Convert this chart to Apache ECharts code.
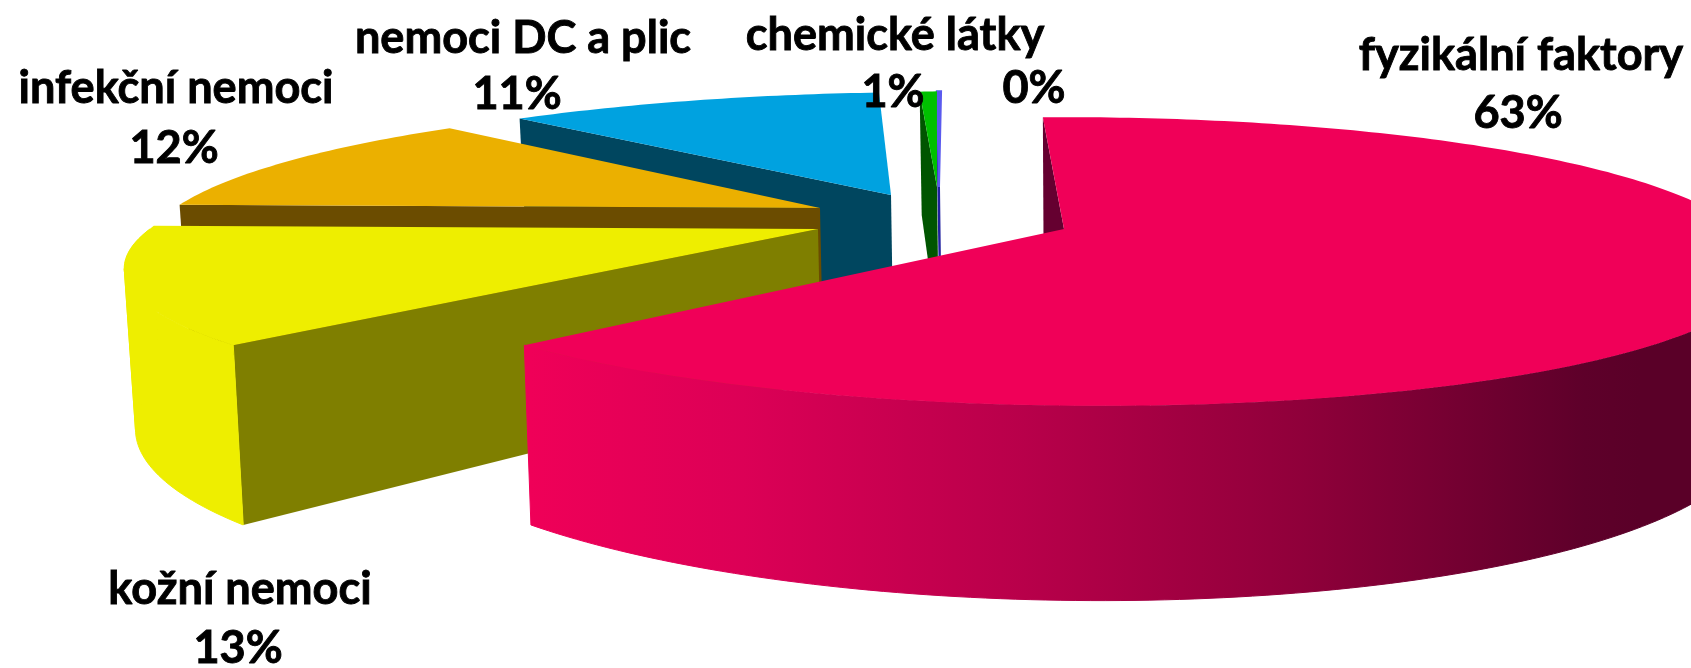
<!DOCTYPE html>
<html>
<head>
<meta charset="utf-8">
<style>html,body{margin:0;padding:0;background:#fff}#c{width:1691px;height:668px}</style>
<script src="https://cdn.jsdelivr.net/npm/echarts@6/dist/echarts.min.js"></script>
</head>
<body>
<div id="c"></div>
<script>
// Data
const categories = ['fyzikální faktory', 'kožní nemoci', 'infekční nemoci', 'nemoci DC a plic', 'chemické látky', ''];
const shares = [63, 13, 12, 11, 1, 0.25]; // last one is labelled 0% but is a visible sliver
const topColors = ['#F00058', '#EEEE00', '#EBB000', '#00A2E0', '#00C000', '#5A5AEE'];
const wallColors = ['#650030', '#7F7F00', '#6B4C00', '#00465F', '#005500', '#2020A0'];

// Layout of the exploded perspective pie
const startDeg = -2.2, K = 0.225, F = 655, G = 137, DEPTH = 151, LEAN_X = 1100, LEAN = 0.0115;
const layout = [
  {ax: 1064, ay: 229, fx: 1.03, fy: 1, sf: 0.21, sb: 0},
  {ax: 818, ay: 229, fx: 1.02, fy: 1, sf: -0.225, sb: 0},
  {ax: 820, ay: 208, fx: 0.985, fy: 0.96, sf: 0, sb: -0.33},
  {ax: 891, ay: 195, fx: 1, fy: 0.92, sf: 0, sb: -0.41},
  {ax: 937, ay: 187, fx: 0.515, fy: 0.856, sf: 0, sb: -0.11},
  {ax: 939, ay: 187, fx: 0.5, fy: 0.856, sf: 0, sb: -0.085}
];
const labelPos = [
  {nx: 1521, ny: 55, px: 1518, py: 113},
  {nx: 240, ny: 589, px: 238, py: 648},
  {nx: 176, ny: 88, px: 174, py: 148},
  {nx: 523, ny: 38, px: 517, py: 94},
  {nx: 895, ny: 35, px: 893, py: 92},
  {nx: 1034, ny: 55, px: 1034, py: 88}
];

const startAngles = [];
shares.reduce((acc, v, i) => { startAngles[i] = acc; return acc + v * 3.6; }, startDeg);

function rimTop(i, deg) {
  const L = layout[i], t = deg * Math.PI / 180;
  const X = Math.sin(t), Y = -Math.cos(t), w = 1 / (1 - K * Y);
  const dy = G * L.fy * Y * w;
  const s = dy > 0 ? L.sf : L.sb;
  return {x: L.ax + F * L.fx * X * w + s * dy, y: L.ay + dy, w: w};
}
function below(p) {
  return [p.x + (LEAN_X - p.x) * LEAN, p.y + DEPTH * p.w];
}
function arcDegs(a, b) {
  const out = [];
  const n = Math.max(2, Math.ceil(Math.abs(b - a)));
  for (let k = 0; k <= n; k++) out.push(a + (b - a) * k / n);
  return out;
}
// cut a rim into runs in which x keeps one direction, so a wall never folds over itself
function monotonicRuns(tops) {
  const runs = [];
  let run = [tops[0]], dir = 0;
  for (let k = 1; k < tops.length; k++) {
    const d = Math.sign(tops[k].x - tops[k - 1].x);
    if (dir && d && d !== dir) { runs.push(run); run = [tops[k - 1]]; }
    if (d) dir = d;
    run.push(tops[k]);
  }
  runs.push(run);
  return runs;
}

const pinkWall = new echarts.graphic.LinearGradient(520, 0, 1640, 0, [
  {offset: 0, color: '#F00058'},
  {offset: 0.2, color: '#DC0056'},
  {offset: 0.45, color: '#B8004A'},
  {offset: 0.7, color: '#8F003A'},
  {offset: 0.95, color: '#5E002A'},
  {offset: 1, color: '#5A0028'}
], true);

function renderSlice(params, api) {
  const i = api.value(0), share = api.value(1);
  const L = layout[i], a = startAngles[i], b = a + share * 3.6;
  const z = 10 * (10 - i);
  const apex = {x: L.ax, y: L.ay, w: 1};
  const thin = share < 1 ? 2 : 0;
  const children = [];
  // radial wall on the starting side
  const s0 = rimTop(i, a);
  children.push({type: 'polygon', z2: z, silent: true,
    shape: {points: [[s0.x, s0.y], [apex.x, apex.y], below(apex), below(s0)]},
    style: {fill: wallColors[i], stroke: thin ? wallColors[i] : null, lineWidth: thin}});
  // outer wall, front-facing part only
  const fa = Math.max(a, 90), fb = Math.min(b, 270);
  if (fb > fa) {
    const tops = arcDegs(fa, fb).map(d => rimTop(i, d));
    const wallFill = i === 0 ? pinkWall : topColors[i];
    monotonicRuns(tops).forEach(run => {
      const pts = run.map(p => [p.x, p.y]).concat(run.slice().reverse().map(below));
      children.push({type: 'polygon', z2: z + 1, silent: true,
        shape: {points: pts},
        style: {fill: wallFill, stroke: wallFill, lineWidth: 1}});
    });
  }
  // top face
  const rim = arcDegs(a, b).map(d => { const p = rimTop(i, d); return [p.x, p.y]; });
  children.push({type: 'polygon', z2: z + 2, silent: true,
    shape: {points: [[apex.x, apex.y]].concat(rim)},
    style: {fill: topColors[i], stroke: thin ? topColors[i] : null, lineWidth: thin}});
  return {type: 'group', children: children};
}

function renderLabel(params, api) {
  const i = api.value(0), P = labelPos[i];
  const font = 'bold 46px Lato, "Open Sans", sans-serif';
  const sty = t => ({text: t, font: font, fill: '#000', stroke: '#000', lineWidth: 0.9, align: 'center', verticalAlign: 'middle'});
  const kids = [];
  if (categories[i]) kids.push({type: 'text', x: P.nx, y: P.ny, scaleX: 0.98, z2: 500, silent: true, style: sty(categories[i])});
  kids.push({type: 'text', x: P.px, y: P.py, scaleX: 0.98, z2: 500, silent: true, style: sty(Math.round(shares[i]) + '%')});
  return {type: 'group', children: kids};
}

const rows = shares.map((v, i) => [i, v]);
const chart = echarts.init(document.getElementById('c'), null, {renderer: 'canvas'});
chart.setOption({
  animation: false,
  backgroundColor: '#fff',
  series: [
    {type: 'custom', coordinateSystem: 'none', renderItem: renderSlice, data: rows, silent: true, z: 2},
    {type: 'custom', coordinateSystem: 'none', renderItem: renderLabel, data: rows, silent: true, z: 3}
  ]
});
</script>
</body>
</html>
